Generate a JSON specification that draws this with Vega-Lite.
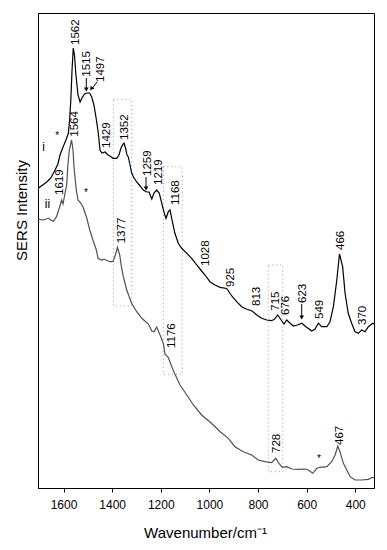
{
  "$schema": "https://vega.github.io/schema/vega-lite/v6.json",
  "width": 336,
  "height": 475,
  "autosize": {"type": "none"},
  "padding": {"left": 38, "top": 13, "right": 13, "bottom": 62},
  "background": "white",
  "config": {
    "view": {"stroke": "black", "strokeWidth": 1},
    "font": "Liberation Sans",
    "text": {"fill": "black", "color": "black"}
  },
  "datasets": {
    "spectra": [
      {"series": "i", "wn": 1704, "I": 299.7}, {"series": "i", "wn": 1669, "I": 306}, {"series": "i", "wn": 1652, "I": 310},
      {"series": "i", "wn": 1635, "I": 318}, {"series": "i", "wn": 1623, "I": 324}, {"series": "i", "wn": 1614.5, "I": 333},
      {"series": "i", "wn": 1602, "I": 341}, {"series": "i", "wn": 1590, "I": 348}, {"series": "i", "wn": 1580, "I": 355},
      {"series": "i", "wn": 1575, "I": 368}, {"series": "i", "wn": 1570, "I": 388}, {"series": "i", "wn": 1565, "I": 418},
      {"series": "i", "wn": 1560, "I": 440}, {"series": "i", "wn": 1555, "I": 433}, {"series": "i", "wn": 1549, "I": 413},
      {"series": "i", "wn": 1540.5, "I": 393}, {"series": "i", "wn": 1532, "I": 386}, {"series": "i", "wn": 1524, "I": 390},
      {"series": "i", "wn": 1514, "I": 394}, {"series": "i", "wn": 1502, "I": 395}, {"series": "i", "wn": 1493, "I": 395},
      {"series": "i", "wn": 1484, "I": 391}, {"series": "i", "wn": 1475, "I": 383}, {"series": "i", "wn": 1466, "I": 370},
      {"series": "i", "wn": 1457, "I": 355}, {"series": "i", "wn": 1450, "I": 338}, {"series": "i", "wn": 1442, "I": 335},
      {"series": "i", "wn": 1429, "I": 336}, {"series": "i", "wn": 1417, "I": 333}, {"series": "i", "wn": 1409, "I": 332},
      {"series": "i", "wn": 1396.5, "I": 329.7}, {"series": "i", "wn": 1381, "I": 329.7}, {"series": "i", "wn": 1372, "I": 333},
      {"series": "i", "wn": 1363.6, "I": 340}, {"series": "i", "wn": 1355, "I": 344}, {"series": "i", "wn": 1351, "I": 344.7},
      {"series": "i", "wn": 1345, "I": 340}, {"series": "i", "wn": 1339, "I": 333}, {"series": "i", "wn": 1333.5, "I": 331},
      {"series": "i", "wn": 1326.5, "I": 323}, {"series": "i", "wn": 1319.5, "I": 314.7}, {"series": "i", "wn": 1310, "I": 310},
      {"series": "i", "wn": 1299, "I": 306}, {"series": "i", "wn": 1285, "I": 302}, {"series": "i", "wn": 1272, "I": 298},
      {"series": "i", "wn": 1258, "I": 296}, {"series": "i", "wn": 1248, "I": 296}, {"series": "i", "wn": 1237, "I": 289},
      {"series": "i", "wn": 1228, "I": 295}, {"series": "i", "wn": 1217, "I": 298}, {"series": "i", "wn": 1206, "I": 294.7},
      {"series": "i", "wn": 1196, "I": 284.7}, {"series": "i", "wn": 1185.5, "I": 274.7}, {"series": "i", "wn": 1178.5, "I": 269.7},
      {"series": "i", "wn": 1169, "I": 276.3}, {"series": "i", "wn": 1162, "I": 278}, {"series": "i", "wn": 1155, "I": 269.7},
      {"series": "i", "wn": 1142, "I": 254.7}, {"series": "i", "wn": 1128, "I": 244.7}, {"series": "i", "wn": 1114, "I": 239.7},
      {"series": "i", "wn": 1093, "I": 234.7}, {"series": "i", "wn": 1073, "I": 229.7}, {"series": "i", "wn": 1052, "I": 223},
      {"series": "i", "wn": 1032, "I": 217}, {"series": "i", "wn": 1018, "I": 213}, {"series": "i", "wn": 997.5, "I": 206.3},
      {"series": "i", "wn": 977, "I": 203}, {"series": "i", "wn": 956, "I": 200.7}, {"series": "i", "wn": 929, "I": 199.5},
      {"series": "i", "wn": 908, "I": 192}, {"series": "i", "wn": 888, "I": 186.3}, {"series": "i", "wn": 867, "I": 181.3},
      {"series": "i", "wn": 846.5, "I": 178.7}, {"series": "i", "wn": 826, "I": 177.3}, {"series": "i", "wn": 805, "I": 173},
      {"series": "i", "wn": 785, "I": 169.7}, {"series": "i", "wn": 764, "I": 168}, {"series": "i", "wn": 744, "I": 167.3},
      {"series": "i", "wn": 733, "I": 168.7}, {"series": "i", "wn": 719, "I": 173}, {"series": "i", "wn": 705, "I": 168},
      {"series": "i", "wn": 693, "I": 164}, {"series": "i", "wn": 682, "I": 168}, {"series": "i", "wn": 668, "I": 164.7},
      {"series": "i", "wn": 655, "I": 162}, {"series": "i", "wn": 638, "I": 163}, {"series": "i", "wn": 620, "I": 164.7},
      {"series": "i", "wn": 603, "I": 161.3}, {"series": "i", "wn": 579, "I": 157}, {"series": "i", "wn": 566, "I": 158.7},
      {"series": "i", "wn": 552, "I": 164.7}, {"series": "i", "wn": 538, "I": 161.3}, {"series": "i", "wn": 517, "I": 161.3},
      {"series": "i", "wn": 504, "I": 166.3}, {"series": "i", "wn": 490, "I": 181.3}, {"series": "i", "wn": 476, "I": 208},
      {"series": "i", "wn": 465, "I": 234}, {"series": "i", "wn": 452, "I": 221.3}, {"series": "i", "wn": 442, "I": 194.7},
      {"series": "i", "wn": 429, "I": 174.7}, {"series": "i", "wn": 415, "I": 164.7}, {"series": "i", "wn": 401, "I": 156.3},
      {"series": "i", "wn": 387.5, "I": 154.7}, {"series": "i", "wn": 374, "I": 158}, {"series": "i", "wn": 360, "I": 156.3},
      {"series": "i", "wn": 346, "I": 161.3}, {"series": "i", "wn": 328, "I": 164.7}, {"series": "i", "wn": 323, "I": 164},
      {"series": "ii", "wn": 1704, "I": 268.7}, {"series": "ii", "wn": 1683, "I": 268}, {"series": "ii", "wn": 1662.6, "I": 269.7},
      {"series": "ii", "wn": 1642, "I": 266.5}, {"series": "ii", "wn": 1629, "I": 271.3}, {"series": "ii", "wn": 1616.6, "I": 280.5},
      {"series": "ii", "wn": 1608, "I": 288}, {"series": "ii", "wn": 1602, "I": 284}, {"series": "ii", "wn": 1593, "I": 296},
      {"series": "ii", "wn": 1587, "I": 303}, {"series": "ii", "wn": 1582, "I": 323}, {"series": "ii", "wn": 1576, "I": 338},
      {"series": "ii", "wn": 1567, "I": 348}, {"series": "ii", "wn": 1561, "I": 338}, {"series": "ii", "wn": 1557, "I": 321.3},
      {"series": "ii", "wn": 1547.5, "I": 298}, {"series": "ii", "wn": 1540.5, "I": 288}, {"series": "ii", "wn": 1529, "I": 284.7},
      {"series": "ii", "wn": 1520, "I": 281.3}, {"series": "ii", "wn": 1506, "I": 271.3}, {"series": "ii", "wn": 1492, "I": 258},
      {"series": "ii", "wn": 1479, "I": 248}, {"series": "ii", "wn": 1465, "I": 238}, {"series": "ii", "wn": 1458, "I": 229.7},
      {"series": "ii", "wn": 1445, "I": 228}, {"series": "ii", "wn": 1431, "I": 228.7}, {"series": "ii", "wn": 1410, "I": 226.3},
      {"series": "ii", "wn": 1396.5, "I": 226.3}, {"series": "ii", "wn": 1387, "I": 233}, {"series": "ii", "wn": 1378, "I": 240.5},
      {"series": "ii", "wn": 1369, "I": 233}, {"series": "ii", "wn": 1362, "I": 221.3}, {"series": "ii", "wn": 1354, "I": 211.3},
      {"series": "ii", "wn": 1340, "I": 198}, {"series": "ii", "wn": 1320, "I": 184.7}, {"series": "ii", "wn": 1299, "I": 176.3},
      {"series": "ii", "wn": 1278, "I": 169.7}, {"series": "ii", "wn": 1251, "I": 164}, {"series": "ii", "wn": 1237, "I": 157},
      {"series": "ii", "wn": 1228, "I": 156.3}, {"series": "ii", "wn": 1217, "I": 161}, {"series": "ii", "wn": 1203, "I": 153},
      {"series": "ii", "wn": 1189.6, "I": 144.7}, {"series": "ii", "wn": 1182.6, "I": 134}, {"series": "ii", "wn": 1169, "I": 130.5},
      {"series": "ii", "wn": 1155, "I": 121.3}, {"series": "ii", "wn": 1142, "I": 114}, {"series": "ii", "wn": 1121, "I": 103},
      {"series": "ii", "wn": 1093, "I": 93}, {"series": "ii", "wn": 1066, "I": 83}, {"series": "ii", "wn": 1032, "I": 73},
      {"series": "ii", "wn": 997.5, "I": 66}, {"series": "ii", "wn": 970, "I": 59.7}, {"series": "ii", "wn": 956, "I": 56.3},
      {"series": "ii", "wn": 922, "I": 49.7}, {"series": "ii", "wn": 895, "I": 41.3}, {"series": "ii", "wn": 860.5, "I": 36.3},
      {"series": "ii", "wn": 826, "I": 33}, {"series": "ii", "wn": 799, "I": 28}, {"series": "ii", "wn": 771, "I": 26.3},
      {"series": "ii", "wn": 744, "I": 25.3}, {"series": "ii", "wn": 727, "I": 29.7}, {"series": "ii", "wn": 714, "I": 24.7},
      {"series": "ii", "wn": 700, "I": 20.7}, {"series": "ii", "wn": 682, "I": 21.3}, {"series": "ii", "wn": 661, "I": 19},
      {"series": "ii", "wn": 634, "I": 18.7}, {"series": "ii", "wn": 607, "I": 19}, {"series": "ii", "wn": 593, "I": 18},
      {"series": "ii", "wn": 575, "I": 14.7}, {"series": "ii", "wn": 558, "I": 19.7}, {"series": "ii", "wn": 545, "I": 20.7},
      {"series": "ii", "wn": 517, "I": 21.3}, {"series": "ii", "wn": 497, "I": 26.3}, {"series": "ii", "wn": 483, "I": 33},
      {"series": "ii", "wn": 472, "I": 42}, {"series": "ii", "wn": 463, "I": 36.3}, {"series": "ii", "wn": 449, "I": 24.7},
      {"series": "ii", "wn": 435, "I": 18}, {"series": "ii", "wn": 421, "I": 11.3}, {"series": "ii", "wn": 401, "I": 8},
      {"series": "ii", "wn": 374, "I": 8}, {"series": "ii", "wn": 346.5, "I": 8.7}, {"series": "ii", "wn": 333, "I": 10.3},
      {"series": "ii", "wn": 323, "I": 10.3}
    ],
    "peaks": [
      {"label": "1562", "lx": 1548, "ly": 443}, {"label": "1515", "lx": 1504.3, "ly": 411.3},
      {"label": "1497", "lx": 1445.8, "ly": 406}, {"label": "1429", "lx": 1423.2, "ly": 340},
      {"label": "1352", "lx": 1349.2, "ly": 348}, {"label": "1259", "lx": 1254.6, "ly": 312},
      {"label": "1219", "lx": 1208.5, "ly": 303}, {"label": "1168", "lx": 1138.2, "ly": 283},
      {"label": "1028", "lx": 1013.9, "ly": 222}, {"label": "925", "lx": 911.1, "ly": 201},
      {"label": "813", "lx": 804.1, "ly": 182}, {"label": "715", "lx": 724.7, "ly": 177.3},
      {"label": "676", "lx": 685.7, "ly": 173}, {"label": "623", "lx": 617, "ly": 185},
      {"label": "549", "lx": 547, "ly": 169}, {"label": "466", "lx": 460.7, "ly": 238},
      {"label": "370", "lx": 370.2, "ly": 163}, {"label": "1619", "lx": 1614.5, "ly": 293},
      {"label": "1564", "lx": 1551.6, "ly": 351.3}, {"label": "1377", "lx": 1361, "ly": 244.7},
      {"label": "1176", "lx": 1154.6, "ly": 140}, {"label": "728", "lx": 723, "ly": 35},
      {"label": "467", "lx": 464.8, "ly": 43}
    ],
    "marks": [
      {"label": "i", "lx": 1682.4, "ly": 341}, {"label": "ii", "lx": 1666, "ly": 284}
    ],
    "stars": [
      {"s": "*", "lx": 1625.6, "ly": 352}, {"s": "*", "lx": 1507.5, "ly": 295}, {"s": "*", "lx": 549, "ly": 29}
    ],
    "arrows": [
      {"x1": 1506.3, "y1": 410, "x2": 1506.3, "y2": 398, "hx": 1506.3, "hy": 398.5, "ang": 0},
      {"x1": 1461, "y1": 406.3, "x2": 1484, "y2": 399, "hx": 1485.5, "hy": 399.3, "ang": 36},
      {"x1": 1260.7, "y1": 311, "x2": 1260.7, "y2": 299, "hx": 1260.7, "hy": 299.5, "ang": 0},
      {"x1": 620.3, "y1": 184, "x2": 620.3, "y2": 170, "hx": 620.3, "hy": 170.5, "ang": 0}
    ],
    "boxes": [
      {"x1": 1395, "x2": 1319.6, "y1": 388.7, "y2": 182},
      {"x1": 1189.6, "x2": 1111.4, "y1": 321.3, "y2": 113.7},
      {"x1": 757.7, "x2": 698.4, "y1": 223, "y2": 16.3}
    ]
  },
  "layer": [
    {
      "data": {"name": "boxes"},
      "mark": {"type": "rect", "fill": null, "fillOpacity": 0, "stroke": "#9a9a9a", "strokeWidth": 1, "strokeDash": [1, 3]},
      "encoding": {
        "x": {"field": "x1", "type": "quantitative", "scale": {"domain": [323, 1705], "reverse": true, "nice": false, "zero": false},
          "axis": {"title": "Wavenumber/cm⁻¹", "values": [1700, 1600, 1500, 1400, 1300, 1200, 1100, 1000, 900, 800, 700, 600, 500, 400],
            "format": "d", "labelExpr": "datum.value % 200 == 0 ? datum.label : ''", "grid": false,
            "domainColor": "black", "tickColor": "black", "tickSize": 4, "labelPadding": 7, "labelFontSize": 12, "labelColor": "black",
            "labelFont": "Liberation Sans", "titleFont": "Liberation Sans", "titleFontSize": 15, "titleFontWeight": "normal", "titleColor": "black",
            "titleX": 167, "titleY": 44, "titleBaseline": "middle", "titleAnchor": null, "labelFlush": false, "labelOverlap": false}},
        "x2": {"field": "x2"},
        "y": {"field": "y1", "type": "quantitative", "scale": {"domain": [0, 475], "nice": false, "zero": false},
          "axis": {"title": "SERS Intensity", "ticks": false, "labels": false, "grid": false, "domainColor": "black",
            "titleFont": "Liberation Sans", "titleFontSize": 15, "titleFontWeight": "normal", "titleColor": "black",
            "titleX": -17, "titleY": 197, "titleBaseline": "middle", "titleAngle": -90}},
        "y2": {"field": "y2"}
      }
    },
    {
      "data": {"name": "spectra"},
      "mark": {"type": "line", "strokeWidth": 1.2, "interpolate": "linear"},
      "encoding": {
        "x": {"field": "wn", "type": "quantitative"},
        "y": {"field": "I", "type": "quantitative"},
        "detail": {"field": "series"},
        "color": {"field": "series", "type": "nominal", "scale": {"domain": ["i", "ii"], "range": ["#000000", "#505050"]}, "legend": null},
        "order": {"field": "wn", "sort": "descending"}
      }
    },
    {
      "data": {"name": "peaks"},
      "mark": {"type": "text", "angle": 270, "align": "left", "baseline": "middle", "fontSize": 11.5, "font": "Liberation Sans", "fill": "black"},
      "encoding": {
        "x": {"field": "lx", "type": "quantitative"},
        "y": {"field": "ly", "type": "quantitative"},
        "text": {"field": "label"}
      }
    },
    {
      "data": {"name": "marks"},
      "mark": {"type": "text", "align": "center", "baseline": "middle", "fontSize": 12, "font": "Liberation Sans", "fill": "black"},
      "encoding": {
        "x": {"field": "lx", "type": "quantitative"},
        "y": {"field": "ly", "type": "quantitative"},
        "text": {"field": "label"}
      }
    },
    {
      "data": {"name": "stars"},
      "mark": {"type": "text", "align": "center", "baseline": "middle", "fontSize": 10, "font": "Liberation Sans", "fill": "black"},
      "encoding": {
        "x": {"field": "lx", "type": "quantitative"},
        "y": {"field": "ly", "type": "quantitative"},
        "text": {"field": "s"}
      }
    },
    {
      "data": {"name": "arrows"},
      "mark": {"type": "rule", "color": "black", "strokeWidth": 1},
      "encoding": {
        "x": {"field": "x1", "type": "quantitative"},
        "y": {"field": "y1", "type": "quantitative"},
        "x2": {"field": "x2"},
        "y2": {"field": "y2"}
      }
    },
    {
      "data": {"name": "arrows"},
      "mark": {"type": "point", "shape": "triangle-down", "filled": true, "color": "black", "size": 22, "opacity": 1},
      "encoding": {
        "x": {"field": "hx", "type": "quantitative"},
        "y": {"field": "hy", "type": "quantitative"},
        "angle": {"field": "ang", "type": "quantitative", "scale": null}
      }
    }
  ]
}
